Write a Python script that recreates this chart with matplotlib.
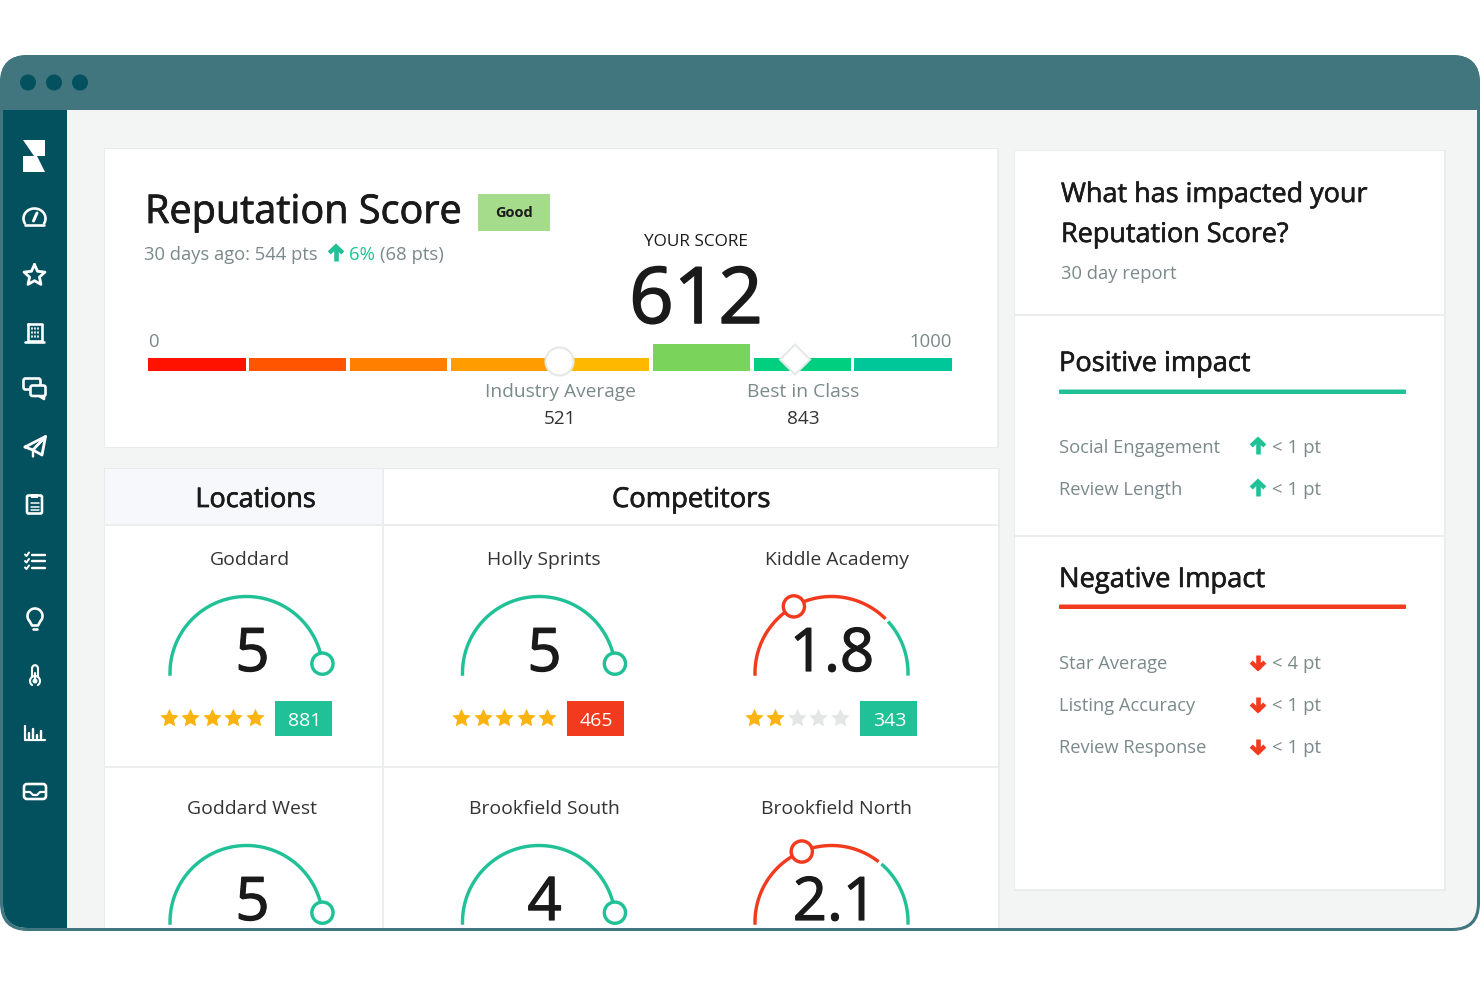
import numpy as np
import matplotlib
matplotlib.use("Agg")
import matplotlib.pyplot as plt
import matplotlib.patheffects as pe
from matplotlib.path import Path
from matplotlib.patches import Rectangle, FancyBboxPatch, Polygon, Circle

plt.rcParams['font.family'] = ['Open Sans', 'DejaVu Sans']

# ---------- data ----------
band_edges = [0, 125, 250, 375, 500, 625, 750, 875, 1000]
band_colors = ['#ff1200', '#ff5500', '#ff7f00', '#ff9c00', '#ffb800', '#7ad35a', '#00cf80', '#00c79a']
active_band = 5
your_score = 612
industry_avg = 521
best_class = 843
score_max = 1000

panel_names = ['Goddard', 'Holly Sprints', 'Kiddle Academy', 'Goddard West', 'Brookfield South', 'Brookfield North']
panel_scores = ['5', '5', '1.8', '5', '4', '2.1']
panel_marker = [5, 5, 1.75, 5, 5, 1.94]
panel_red_to = [0, 0, 3.9, 0, 0, 3.7]
panel_stars = [5, 5, 2]
panel_counts = [881, 465, 343]
panel_count_good = [True, False, True]

positive_labels = ['Social Engagement', 'Review Length']
positive_values = ['< 1 pt', '< 1 pt']
negative_labels = ['Star Average', 'Listing Accuracy', 'Review Response']
negative_values = ['< 4 pt', '< 1 pt', '< 1 pt']

# ---------- colours ----------
FRAME = '#41767f'
SIDE = '#03505e'
BG = '#f3f5f5'
DARK = '#1a1a1a'
GREY = '#7b898b'
GREEN = '#21c197'
RED = '#f23a1e'
LINE = '#eceeee'
STAR = '#fbb40f'
STAR_OFF = '#e4e6e6'
PX = 0.72  # points per pixel

fig = plt.figure(figsize=(14.8, 9.87), dpi=100, facecolor='white')


def pixel_axes(z):
    a = fig.add_axes([0, 0, 1, 1], zorder=z)
    a.set_xlim(0, 1480)
    a.set_ylim(987, 0)
    a.axis('off')
    return a


back = pixel_axes(1)   # window and cards
ax = pixel_axes(3)     # marks and text above the score bar


def T(x, y, s, px, color=DARK, ha='left', weight='normal', stroke=0.0, z=10):
    t = ax.text(x, y, s, fontsize=px * PX, color=color, ha=ha, va='baseline', fontweight=weight, zorder=z)
    if stroke:
        t.set_path_effects([pe.withStroke(linewidth=stroke * PX, foreground=color)])
    return t


# ---------- window ----------
outer = FancyBboxPatch((28, 84), 1424, 820, boxstyle='round,pad=28,rounding_size=28',
                       facecolor=FRAME, edgecolor='none', zorder=1)
back.add_patch(outer)
inner = FancyBboxPatch((28, 95), 1424, 809, boxstyle='round,pad=25,rounding_size=25',
                       facecolor=BG, edgecolor='none', zorder=1.1)
back.add_patch(inner)


def R(x0, y0, x1, y1, color, z=3, clip=inner):
    p = Rectangle((x0, y0), x1 - x0, y1 - y0, facecolor=color, edgecolor='none', zorder=z)
    back.add_patch(p)
    p.set_clip_path(clip)
    return p


R(0, 56, 1480, 110.5, FRAME, z=1.2, clip=outer)
R(2, 110.5, 67, 932, SIDE, z=1.4)
for x in (28, 54, 80):
    back.add_patch(Circle((x, 83.5), 8, facecolor=SIDE, edgecolor='none', zorder=2))


# ---------- cards ----------
def card(x0, y0, x1, y1):
    R(x0 - 1.5, y0 - 1, x1 + 1.5, y1 + 1.5, '#e9ecec', z=2)
    R(x0, y0, x1, y1, 'white', z=2.1)


card(105, 149.5, 997, 447.5)
card(105, 469.5, 998, 940)
card(1015, 151.5, 1444, 890)
R(105, 469.5, 382, 525, '#f6f8fb', z=2.2)
R(381.5, 469.5, 383.5, 940, LINE, z=2.3)
R(105, 524.5, 998, 526.5, LINE, z=2.3)
R(105, 766.5, 998, 768.5, LINE, z=2.3)
R(1015, 314.5, 1444, 316.5, LINE, z=2.3)
R(1015, 535.5, 1444, 537.5, LINE, z=2.3)


# ---------- arrows ----------
def arrow(x, y, color, up=True):
    d = -1 if up else 1
    ax.plot([x, x], [y - 7 * d, y + 7 * d], color=color, lw=4.6 * PX, zorder=9, solid_capstyle='butt')
    ax.plot([x - 6.8, x, x + 6.8], [y + 0.6 * d, y + 7 * d, y + 0.6 * d], color=color,
            lw=4.4 * PX, zorder=9, solid_joinstyle='miter', solid_capstyle='butt')


# ---------- score card ----------
T(145, 224, 'Reputation Score', 39.6, stroke=0.8)
back.add_patch(Rectangle((478, 194.5), 71.5, 37, facecolor='#a5dc8c', edgecolor='none', zorder=4))
T(513.5, 217, 'Good', 14.5, ha='center', weight='bold')
T(144, 260, '30 days ago: 544 pts', 18.4, GREY)
arrow(336, 254.5, GREEN)
T(349, 260, '6%', 18.5, GREEN)
T(380, 260, '(68 pts)', 18.5, GREY)
T(696, 246, 'YOUR SCORE', 17.2, ha='center')
T(696, 324, str(your_score), 78, ha='center', stroke=1.6)
T(148, 347, '0', 18.5, GREY)
T(952, 347, str(score_max), 18.5, GREY, ha='right')

bar_ax = fig.add_axes([148 / 1480, 1 - 371.5 / 987, 807.4 / 1480, 27 / 987], zorder=2)
bar_ax.set_xlim(0, score_max)
bar_ax.set_ylim(0, 27)
bar_ax.axis('off')
gap = 4.2
for i, c in enumerate(band_colors):
    h = 27 if i == active_band else 13.0
    bar_ax.bar(band_edges[i], h, width=band_edges[i + 1] - band_edges[i] - gap, align='edge', color=c)

ax.add_patch(Circle((559.5, 362.5), 14, facecolor='white', edgecolor='#e6e8e8', lw=1.5, zorder=7))
ax.add_patch(Polygon([[795, 345.5], [810, 360.5], [795, 375.5], [780, 360.5]], closed=True,
                     facecolor='white', edgecolor='#e6e8e8', lw=1.5, zorder=7))
T(560, 397, 'Industry Average', 19.1, GREY, ha='center')
T(560, 424, str(industry_avg), 19, '#333333', ha='center')
T(803, 397, 'Best in Class', 19.3, GREY, ha='center')
T(803, 424, str(best_class), 19, '#333333', ha='center')

T(255.5, 508, 'Locations', 27, ha='center', stroke=0.7)
T(691, 508, 'Competitors', 27.4, ha='center', stroke=0.7)

# ---------- gauges ----------
gauge_cx = [246.5, 539, 831.5, 246.5, 539, 831.5]
gauge_cy = [674, 674, 674, 923, 923, 923]
digit_x = [252.5, 544.5, 832, 252.5, 544.5, 835]
title_x = [249.5, 544, 837, 252, 544, 836.5]
title_y = [565, 565, 565, 814, 814, 814]
digit_y = [672, 672, 672, 921, 921, 921]
RAD = 76.5
SPAN = 173.0
SCALE = 5.0


def ang(v):
    return np.radians(180 - v / SCALE * SPAN)


def arc(cx, cy, v0, v1, color, lw=3.4):
    t = np.linspace(ang(v0), ang(v1), 80)
    ax.plot(cx + RAD * np.cos(t), cy - RAD * np.sin(t), color=color, lw=lw * PX,
            zorder=8, solid_capstyle='butt')


for i, name in enumerate(panel_names):
    cx, cy = gauge_cx[i], gauge_cy[i]
    T(title_x[i], title_y[i], name, 19.4, '#333333', ha='center')
    T(digit_x[i], digit_y[i], panel_scores[i], 60, ha='center', stroke=1.2)
    split = panel_red_to[i]
    if split:
        arc(cx, cy, -0.06, split, RED)
        arc(cx, cy, split + 0.08, SCALE + 0.26, GREEN)
        col = RED
    else:
        arc(cx, cy, -0.06, SCALE, GREEN)
        col = GREEN
    a = ang(panel_marker[i])
    ax.add_patch(Circle((cx + RAD * np.cos(a), cy - RAD * np.sin(a)), 10.6, facecolor='white',
                        edgecolor=col, lw=3.4 * PX, zorder=9))

star_marker = Path.unit_regular_star(5, innerCircle=0.48)
for i in range(3):
    x0 = gauge_cx[i] - 78
    xs = x0 + np.arange(5) * 21.5
    n = panel_stars[i]
    ax.scatter(xs[:n], [718.5] * n, marker=star_marker, s=195, color=STAR, linewidths=0, zorder=8)
    ax.scatter(xs[n:], [718.5] * (5 - n), marker=star_marker, s=195, color=STAR_OFF, linewidths=0, zorder=8)
    bx = gauge_cx[i] + 28.3
    ax.add_patch(Rectangle((bx, 701.5), 57, 35.5, facecolor=GREEN if panel_count_good[i] else RED,
                           edgecolor='none', zorder=8))
    T(bx + 29.5, 726, str(panel_counts[i]), 19.5, 'white', ha='center')

# ---------- right column ----------
T(1061, 203, 'What has impacted your', 27, stroke=0.6)
T(1061, 243, 'Reputation Score?', 27, stroke=0.6)
T(1061, 279, '30 day report', 18.4, GREY)
T(1059, 372, 'Positive impact', 27.2, stroke=0.6)
ax.add_patch(FancyBboxPatch((1060, 391.5), 345, 2.5, boxstyle='round,pad=1,rounding_size=1',
                            facecolor=GREEN, edgecolor='none', zorder=8))
for y, lab, val in zip([453, 495], positive_labels, positive_values):
    T(1059, y, lab, 18.4, GREY)
    arrow(1258, y - 5.5, GREEN)
    T(1272, y, val, 18.6, GREY)
T(1059, 588, 'Negative Impact', 27.3, stroke=0.6)
ax.add_patch(FancyBboxPatch((1060, 606.5), 345, 2.5, boxstyle='round,pad=1,rounding_size=1',
                            facecolor=RED, edgecolor='none', zorder=8))
for y, lab, val in zip([669, 711, 753], negative_labels, negative_values):
    T(1059, y, lab, 18.4, GREY)
    arrow(1258, y - 6.5, RED, up=False)
    T(1272, y, val, 18.6, GREY)

# ---------- sidebar icons ----------
W = 'white'
ILW = 2.6 * PX


def L(xs, ys, lw=ILW, closed=False):
    if closed:
        xs, ys = list(xs) + [xs[0]], list(ys) + [ys[0]]
    ax.plot(xs, ys, color=W, lw=lw, zorder=9, solid_capstyle='round', solid_joinstyle='round')


# logo
ax.add_patch(Polygon([[23, 140.5], [45, 140.5], [45, 157], [34, 157]], facecolor=W, edgecolor='none', zorder=9))
ax.add_patch(Polygon([[23, 157], [37, 157], [45, 173], [23, 173]], facecolor=W, edgecolor='none', zorder=9))
# gauge
t = np.radians(np.linspace(-30, 210, 40))
L(34.5 + 11 * np.cos(t), 219.5 - 10 * np.sin(t), 2.6 * PX)
L([25, 44], [225.5, 225.5], 2.6 * PX)
L([33.5, 37], [222, 214], 3.0 * PX)
# star outline
t = np.radians(90 + np.arange(10) * 36)
r = np.where(np.arange(10) % 2 == 0, 11, 5.2)
L(34.5 + r * np.cos(t), 276.5 - r * np.sin(t), 2.8 * PX, closed=True)
# building
L([27.5, 41.5, 41.5, 27.5], [324.5, 324.5, 342, 342], ILW, closed=True)
L([25, 44], [342.5, 342.5], ILW)
for xx in (31.5, 34.5, 37.5):
    for yy in (328.5, 332.5, 336.5):
        L([xx, xx], [yy, yy + 1.5], 1.7 * PX)
# chats
ax.add_patch(FancyBboxPatch((25, 381), 14, 8, boxstyle='round,pad=1.5,rounding_size=2', fc=SIDE, ec=W,
                            lw=ILW, zorder=9))
ax.add_patch(FancyBboxPatch((32, 388), 12, 7.5, boxstyle='round,pad=1.5,rounding_size=2', fc=SIDE, ec=W,
                            lw=ILW, zorder=9.1))
L([40, 44, 44], [397.5, 400, 397], ILW)
# plane
L([25, 45.5, 42, 33, 25], [448, 437.5, 456, 451, 448], 2.8 * PX)
L([33, 45.5, 33, 33], [451, 437.5, 451, 457.5], 2.4 * PX)
# clipboard
ax.add_patch(FancyBboxPatch((28, 497.5), 13, 16, boxstyle='round,pad=1,rounding_size=1.5', fc=SIDE, ec=W,
                            lw=2.6 * PX, zorder=9))
ax.add_patch(Rectangle((31, 495), 7, 4, fc=W, ec='none', zorder=9.2))
for yy in (504, 507.5, 511):
    L([30.5, 38.5], [yy, yy], 1.5 * PX)
# checklist
for yy in (555.5, 562, 568.5):
    L([32, 45], [yy, yy], 2.4 * PX)
    L([25, 26.5, 29], [yy, yy + 1.5, yy - 2], 2.0 * PX)
# bulb
t = np.radians(np.linspace(-40, 220, 40))
L(35 + 7.5 * np.cos(t), 617 - 7.5 * np.sin(t), 2.6 * PX)
L([29.5, 32, 38, 40.5], [622, 626.5, 626.5, 622], 2.6 * PX)
L([33, 37], [630, 630], 2.6 * PX)
# thermometer
t = np.radians(np.linspace(-55, 235, 30))
L(35 + 5 * np.cos(t), 682 - 5 * np.sin(t), 2.1 * PX)
L([32.2, 32.2], [678, 669], 2.1 * PX)
L([37.8, 37.8], [678, 669], 2.1 * PX)
t = np.radians(np.linspace(0, 180, 12))
L(35 + 2.8 * np.cos(t), 669 - 2.8 * np.sin(t), 2.1 * PX)
ax.add_patch(Circle((35, 682), 2.5, fc=W, ec='none', zorder=9))
L([35, 35], [682, 674], 2.1 * PX)
# bar chart
L([25, 25, 45], [727, 741, 741], 2.2 * PX)
for xx, top in zip((29, 33, 37, 41), (734, 730, 736, 732)):
    L([xx, xx], [739, top], 2.4 * PX)
# inbox
ax.add_patch(FancyBboxPatch((25, 786), 20, 13, boxstyle='round,pad=1,rounding_size=3', fc=SIDE, ec=W,
                            lw=2.6 * PX, zorder=9))
L([24, 30, 33, 37, 40, 46], [793, 793, 796, 796, 793, 793], 2.2 * PX)

fig.savefig('out.png', dpi=100)
